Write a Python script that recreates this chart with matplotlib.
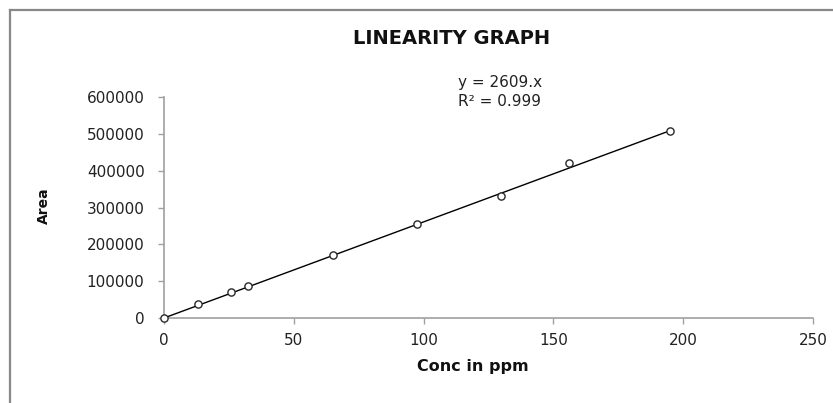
import matplotlib
matplotlib.use("Agg")
import matplotlib.pyplot as plt
from matplotlib.lines import Line2D
import numpy as np

plt.rcParams['font.family'] = ['DejaVu Sans']

# Calibration data
conc_ppm = [0, 13, 26, 32.5, 65, 97.5, 130, 156, 195]
area = [0, 37000, 70000, 86000, 170000, 254500, 330000, 420500, 507500]
slope = 2609
r_squared = 0.999
x_ticks = [0, 50, 100, 150, 200, 250]
y_ticks = [0, 100000, 200000, 300000, 400000, 500000, 600000]

W, H = 833, 403
fig = plt.figure(figsize=(W / 100, H / 100), dpi=100)
ax = fig.add_axes([164 / W, 1 - 318 / H, (813 - 164) / W, (318 - 97) / H])

# Trendline through origin
xl = np.array([0, max(conc_ppm)])
ax.plot(xl, slope * xl, color='black', lw=1.0, zorder=2)
ax.plot(conc_ppm, area, linestyle='none', marker='o', ms=5.2,
        mfc='white', mec='#2a2a2a', mew=1.0, zorder=3, clip_on=False)

ax.set_xlim(0, 250)
ax.set_ylim(0, 600000)
ax.set_xticks(x_ticks)
ax.set_yticks(y_ticks)
ax.set_xticklabels([str(v) for v in x_ticks])
ax.set_yticklabels([str(v) for v in y_ticks])
for s in ['top', 'right']:
    ax.spines[s].set_visible(False)
for s in ['left', 'bottom']:
    ax.spines[s].set_color('#a0a0a0')
    ax.spines[s].set_linewidth(1.2)
ax.tick_params(axis='both', colors='#a0a0a0', labelcolor='#222222',
               labelsize=11, length=4, width=1.0, direction='out')
ax.tick_params(axis='x', pad=7)
ax.tick_params(axis='y', pad=10)

ax.set_xlabel('Conc in ppm', fontsize=11.5, fontweight='bold', color='#111111')
ax.xaxis.set_label_coords((473 - 164) / (813 - 164), -(367 - 318) / 221)
ax.xaxis.label.set_va('center')
ax.set_ylabel('Area', fontsize=10, fontweight='bold', color='#111111')
ax.yaxis.set_label_coords((44 - 164) / (813 - 164), (318 - 206) / 221)
ax.yaxis.label.set_va('center')

fig.text(452 / W, 1 - 39 / H, 'LINEARITY GRAPH', ha='center', va='center',
         fontsize=14, fontweight='bold', color='#111111')
fig.text(458 / W, 1 - 83 / H, f'y = {slope}.x', ha='left', va='center',
         fontsize=11, color='#222222')
fig.text(458 / W, 1 - 101 / H, f'R² = {r_squared}', ha='left', va='center',
         fontsize=11, color='#222222')

# Outer frame (top and left edges)
fig.add_artist(Line2D([10 / W, 1], [1 - 10 / H, 1 - 10 / H], color='#888888', lw=1.6,
                      transform=fig.transFigure))
fig.add_artist(Line2D([10 / W, 10 / W], [0, 1 - 10 / H], color='#888888', lw=1.6,
                      transform=fig.transFigure))

fig.savefig('out.png', dpi=100)
